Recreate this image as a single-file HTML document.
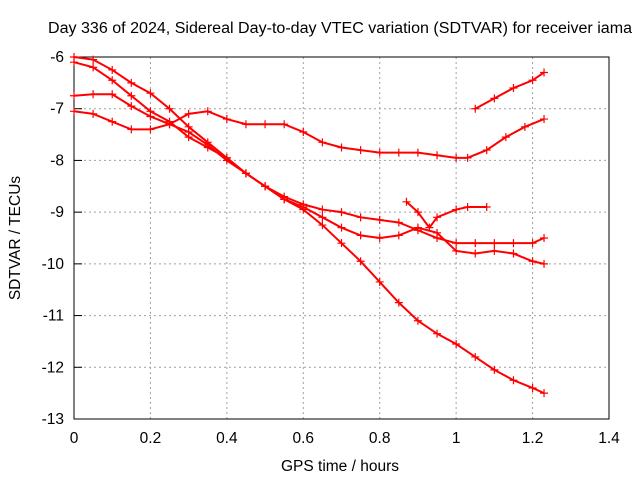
<!DOCTYPE html>
<html><head><meta charset="utf-8"><style>
body{margin:0;background:#fff;}
svg text{font-family:"Liberation Sans",sans-serif;font-size:15.5px;fill:#000;}
</style></head><body>
<svg id="chart" width="640" height="480" xmlns="http://www.w3.org/2000/svg">
<text x="340" y="33" text-anchor="middle" textLength="584" lengthAdjust="spacingAndGlyphs">Day 336 of 2024, Sidereal Day-to-day VTEC variation (SDTVAR) for receiver iama</text>
<text x="340" y="471" text-anchor="middle">GPS time / hours</text>
<text transform="translate(20,238) rotate(-90)" text-anchor="middle">SDTVAR / TECUs</text>
<g id="grid"></g><g id="axes"></g><g id="series"></g>
</svg>
<script>
const xTicks=[0,0.2,0.4,0.6,0.8,1,1.2,1.4];
const xTickLabels=["0","0.2","0.4","0.6","0.8","1","1.2","1.4"];
const yTicks=[-6,-7,-8,-9,-10,-11,-12,-13];
const yTickLabels=["-6","-7","-8","-9","-10","-11","-12","-13"];
const s1x=[0,0.05,0.1,0.15,0.2,0.25,0.3,0.35,0.4,0.45,0.5,0.55,0.6,0.65,0.7,0.75,0.8,0.85,0.9,0.95,1.0,1.05,1.1,1.15,1.2,1.23];
const s1y=[-6.0,-6.05,-6.25,-6.5,-6.7,-7.0,-7.35,-7.65,-7.95,-8.25,-8.5,-8.75,-8.95,-9.25,-9.6,-9.95,-10.35,-10.75,-11.1,-11.35,-11.55,-11.8,-12.05,-12.25,-12.4,-12.5];
const s2x=s1x;
const s2y=[-6.1,-6.2,-6.45,-6.75,-7.05,-7.25,-7.55,-7.75,-7.95,-8.25,-8.5,-8.7,-8.85,-8.95,-9.0,-9.1,-9.15,-9.2,-9.35,-9.5,-9.6,-9.6,-9.6,-9.6,-9.6,-9.5];
const s3x=s1x;
const s3y=[-6.75,-6.72,-6.72,-6.95,-7.15,-7.3,-7.45,-7.7,-8.0,-8.25,-8.5,-8.75,-8.9,-9.1,-9.3,-9.45,-9.5,-9.45,-9.3,-9.4,-9.75,-9.8,-9.75,-9.8,-9.95,-10.0];
const s4x=[0,0.05,0.1,0.15,0.2,0.25,0.3,0.35,0.4,0.45,0.5,0.55,0.6,0.65,0.7,0.75,0.8,0.85,0.9,0.95,1.0,1.03,1.08,1.13,1.18,1.23];
const s4y=[-7.05,-7.1,-7.25,-7.4,-7.4,-7.3,-7.1,-7.05,-7.2,-7.3,-7.3,-7.3,-7.45,-7.65,-7.75,-7.8,-7.85,-7.85,-7.85,-7.9,-7.95,-7.95,-7.8,-7.55,-7.35,-7.2];
const s5x=[1.05,1.1,1.15,1.2,1.23];
const s5y=[-7.0,-6.8,-6.6,-6.45,-6.3];
const s6x=[0.87,0.9,0.93,0.95,1.0,1.03,1.08];
const s6y=[-8.8,-9.0,-9.3,-9.1,-8.95,-8.9,-8.9];
const L=74,R=609,T=57,B=419;
const xs=v=>L+(v-0)/1.4*(R-L);
const ys=v=>T+(-6-v)/7*(B-T);
const NS="http://www.w3.org/2000/svg";
function mk(tag,parent){const e=document.createElementNS(NS,tag);parent.appendChild(e);return e;}
const grid=document.getElementById('grid'),axes=document.getElementById('axes'),ser=document.getElementById('series');
xTicks.forEach((t,i)=>{
 const x=xs(t);
 if(i>0&&i<xTicks.length-1){const g=mk('line',grid);g.setAttribute('x1',x);g.setAttribute('x2',x);g.setAttribute('y1',T);g.setAttribute('y2',B);g.setAttribute('stroke','#a0a0a0');g.setAttribute('stroke-dasharray','2,3');
 
 }
 const tx=mk('text',axes);tx.setAttribute('x',x);tx.setAttribute('y',B+24);tx.setAttribute('text-anchor','middle');tx.textContent=xTickLabels[i];
 
 
});
yTicks.forEach((t,i)=>{
 const y=ys(t);
 if(i>0&&i<yTicks.length-1){const g=mk('line',grid);g.setAttribute('x1',L);g.setAttribute('x2',R);g.setAttribute('y1',y);g.setAttribute('y2',y);g.setAttribute('stroke','#a0a0a0');g.setAttribute('stroke-dasharray','2,3');
 
 }
 const tk=mk('line',axes);tk.setAttribute('x1',L);tk.setAttribute('x2',L+8);tk.setAttribute('y1',y);tk.setAttribute('y2',y);tk.setAttribute('stroke','#000');
 
 
 const tx=mk('text',axes);tx.setAttribute('x',L-10);tx.setAttribute('y',y+5);tx.setAttribute('text-anchor','end');tx.textContent=yTickLabels[i];
 
 
});
const fr=mk('rect',axes);fr.setAttribute('x',L);fr.setAttribute('y',T);fr.setAttribute('width',R-L);fr.setAttribute('height',B-T);fr.setAttribute('fill','none');fr.setAttribute('stroke','#000');


const all=[[s1x,s1y],[s2x,s2y],[s3x,s3y],[s4x,s4y],[s5x,s5y],[s6x,s6y]];
all.forEach((s,k)=>{
 const g=mk('g',ser);
 
 
 const p=mk('polyline',g);
 p.setAttribute('points',s[0].map((x,i)=>xs(x)+','+ys(s[1][i])).join(' '));
 p.setAttribute('fill','none');p.setAttribute('stroke','#ff0000');p.setAttribute('stroke-width','2');
 
 
 s[0].forEach((x,i)=>{
  const cx=xs(x),cy=ys(s[1][i]);
  const m=mk('path',g);
  m.setAttribute('d',`M${cx-4},${cy}H${cx+4}M${cx},${cy-4}V${cy+4}`);
  m.setAttribute('stroke','#ff0000');m.setAttribute('stroke-width','1.2');
  
  
 });
});
</script>
</body></html>
